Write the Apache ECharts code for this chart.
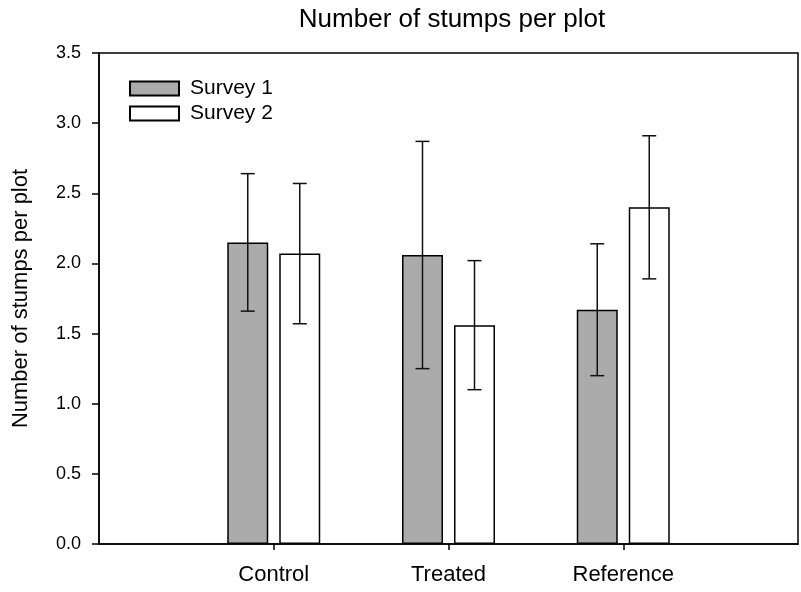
<!DOCTYPE html>
<html>
<head>
<meta charset="utf-8">
<script src="https://cdn.jsdelivr.net/npm/echarts@6/dist/echarts.min.js"></script>
<style>
  html, body { margin: 0; padding: 0; background: #fff; }
  #chart { width: 801px; height: 592px; }
</style>
</head>
<body>
<div id="chart"></div>
<script>
// categories: padded with empty slots at both ends so the axis runs 0..4
const categories = ['', 'Control', 'Treated', 'Reference', ''];
const seriesNames = ['Survey 1', 'Survey 2'];
// mean values
const survey1 = [null, 2.15, 2.06, 1.67, null];
const survey2 = [null, 2.07, 1.56, 2.40, null];
// error bar half-widths
const survey1Err = [null, 0.49, 0.81, 0.47, null];
const survey2Err = [null, 0.50, 0.46, 0.51, null];
const yTicks = [0, 0.5, 1.0, 1.5, 2.0, 2.5, 3.0, 3.5];

const FONT = '"Liberation Sans", Arial, sans-serif';
const chart = echarts.init(document.getElementById('chart'));

// rows for the error bar custom series: [catIndex, low, high]
function errRows(vals, errs) {
  const rows = [];
  vals.forEach((v, i) => {
    if (v == null) return;
    rows.push([i, v - errs[i], v + errs[i]]);
  });
  return rows;
}

function errorBar(offset) {
  return function (params, api) {
    const lo = api.coord([api.value(0), api.value(1)]);
    const hi = api.coord([api.value(0), api.value(2)]);
    const x = lo[0] + offset;
    const cap = 7;
    const style = { stroke: '#111', lineWidth: 1.5 };
    return {
      type: 'group',
      children: [
        { type: 'line', shape: { x1: x, y1: hi[1], x2: x, y2: lo[1] }, style },
        { type: 'line', shape: { x1: x - cap, y1: hi[1], x2: x + cap, y2: hi[1] }, style },
        { type: 'line', shape: { x1: x - cap, y1: lo[1], x2: x + cap, y2: lo[1] }, style },
      ],
    };
  };
}

const barW = 41;
const gap = 11;
const off = (barW + gap) / 2;

const option = {
  animation: false,
  textStyle: { fontFamily: FONT, color: '#000' },
  title: {
    text: 'Number of stumps per plot',
    left: 447,
    textAlign: 'center',
    top: 2,
    textStyle: { fontFamily: FONT, fontSize: 26, fontWeight: 'normal', color: '#000' },
  },
  legend: {
    data: seriesNames,
    orient: 'vertical',
    left: 129,
    top: 78,
    padding: 0,
    icon: 'rect',
    itemWidth: 49,
    itemHeight: 14,
    itemGap: 4,
    textStyle: { fontFamily: FONT, fontSize: 21, color: '#000', padding: [0, 0, 0, 6] },
  },
  grid: {
    left: 99,
    right: 2,
    top: 53,
    bottom: 48,
    show: true,
    borderColor: '#000',
    borderWidth: 1.5,
    containLabel: false,
  },
  xAxis: {
    type: 'category',
    data: categories,
    boundaryGap: false,
    axisLine: { lineStyle: { color: '#000', width: 1.5 } },
    axisTick: {
      length: 6,
      interval: (idx) => idx >= 1 && idx <= 3,
      lineStyle: { color: '#000', width: 1.5 },
    },
    axisLabel: {
      interval: 0,
      margin: 20,
      fontFamily: FONT,
      fontSize: 22,
      color: '#000',
    },
    splitLine: { show: false },
  },
  yAxis: {
    type: 'value',
    min: yTicks[0],
    max: yTicks[yTicks.length - 1],
    interval: 0.5,
    name: 'Number of stumps per plot',
    nameLocation: 'middle',
    nameGap: 67,
    nameTextStyle: { fontFamily: FONT, fontSize: 22, color: '#000' },
    axisLine: { show: true, lineStyle: { color: '#000', width: 1.5 } },
    axisTick: { show: true, length: 7, lineStyle: { color: '#000', width: 1.5 } },
    axisLabel: {
      margin: 18,
      fontFamily: FONT,
      fontSize: 18,
      color: '#000',
      formatter: (v) => v.toFixed(1),
    },
    splitLine: { show: false },
  },
  series: [
    {
      name: seriesNames[0],
      type: 'bar',
      data: survey1,
      barWidth: barW,
      barGap: (gap / barW * 100) + '%',
      itemStyle: { color: '#ababab', borderColor: '#000', borderWidth: 1.5 },
      z: 2,
    },
    {
      name: seriesNames[1],
      type: 'bar',
      data: survey2,
      barWidth: barW,
      barGap: (gap / barW * 100) + '%',
      itemStyle: { color: '#fff', borderColor: '#000', borderWidth: 1.5 },
      z: 2,
    },
    {
      type: 'custom',
      renderItem: errorBar(-off),
      data: errRows(survey1, survey1Err),
      encode: { x: 0, y: [1, 2] },
      z: 5,
      silent: true,
    },
    {
      type: 'custom',
      renderItem: errorBar(off),
      data: errRows(survey2, survey2Err),
      encode: { x: 0, y: [1, 2] },
      z: 5,
      silent: true,
    },
  ],
};

chart.setOption(option);
</script>
</body>
</html>
